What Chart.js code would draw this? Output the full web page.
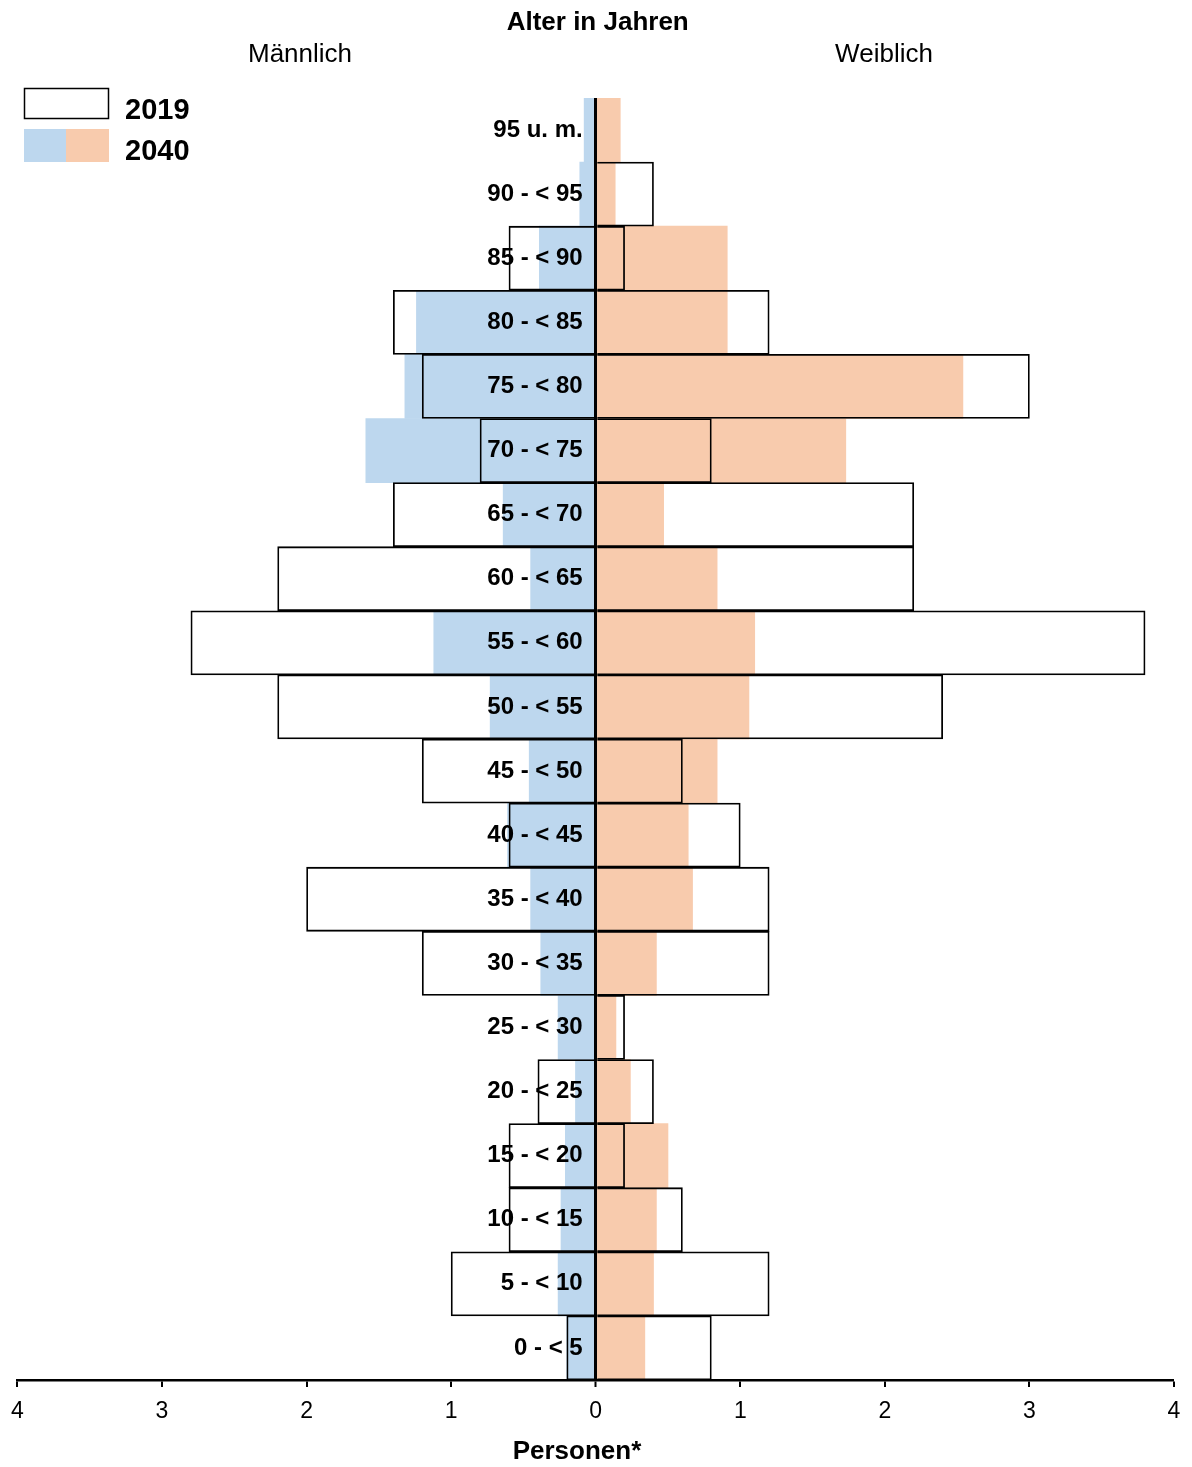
<!DOCTYPE html>
<html lang="de">

<head>
    <meta charset="UTF-8">
    <title>Alter in Jahren</title>
    <script src="https://cdn.jsdelivr.net/npm/chart.js"></script>
    <style>
        body { margin: 0; background: #fff; }
    </style>
</head>

<body>
    <canvas id="pyramid" width="1192" height="1467"></canvas>
    <script>
        const ageGroups = ['95 u. m.', '90 - < 95', '85 - < 90', '80 - < 85', '75 - < 80', '70 - < 75',
            '65 - < 70', '60 - < 65', '55 - < 60', '50 - < 55', '45 - < 50', '40 - < 45', '35 - < 40',
            '30 - < 35', '25 - < 30', '20 - < 25', '15 - < 20', '10 - < 15', '5 - < 10', '0 - < 5'];

        // 2019 (outline only)
        const male2019 = [null, null, 0.6, 1.4, 1.2, 0.8, 1.4, 2.2, 2.8, 2.2, 1.2, 0.6, 2.0, 1.2, null, 0.4, 0.6, 0.6, 1.0, 0.2];
        const female2019 = [null, 0.4, 0.2, 1.2, 3.0, 0.8, 2.2, 2.2, 3.8, 2.4, 0.6, 1.0, 1.2, 1.2, 0.2, 0.4, 0.2, 0.6, 1.2, 0.8];

        // 2040 (filled)
        const male2040 = [0.08, 0.11, 0.39, 1.24, 1.32, 1.59, 0.64, 0.45, 1.12, 0.73, 0.46, 0.61, 0.45, 0.38, 0.26, 0.14, 0.21, 0.24, 0.26, 0.2];
        const female2040 = [0.17, 0.135, 0.91, 0.91, 2.54, 1.73, 0.47, 0.84, 1.10, 1.06, 0.84, 0.64, 0.67, 0.42, 0.14, 0.24, 0.50, 0.42, 0.40, 0.34];

        const xTicks = [-4, -3, -2, -1, 0, 1, 2, 3, 4];

        const blue = '#BDD7EE';
        const orange = '#F8CBAD';
        const font = '"Liberation Sans", Arial, sans-serif';

        const neg = arr => arr.map(v => v === null ? null : -v);

        // labels in the middle, titles, legend
        const decorations = {
            id: 'decorations',
            afterDatasetsDraw(chart) {
                const ctx = chart.ctx;
                const x = chart.scales.x;
                const y = chart.scales.y;
                const x0 = x.getPixelForValue(0);

                ctx.save();
                ctx.fillStyle = '#000';
                ctx.textBaseline = 'middle';
                ctx.font = 'bold 24px ' + font;
                ctx.textAlign = 'right';
                ageGroups.forEach((g, i) => {
                    ctx.fillText(g, x0 - 13, y.getPixelForValue(i));
                });

                ctx.textAlign = 'center';
                ctx.font = 'bold 26px ' + font;
                ctx.fillText('Alter in Jahren', x0 + 2, 23);
                ctx.fillText('Personen*', 577, 1452);
                ctx.font = '26px ' + font;
                ctx.fillText('Männlich', 300, 55);
                ctx.fillText('Weiblich', 884, 55);

                // legend
                ctx.lineWidth = 1.5;
                ctx.strokeStyle = '#000';
                ctx.fillStyle = '#fff';
                ctx.fillRect(24, 88, 85, 31);
                ctx.strokeRect(24.5, 88.5, 84, 30);
                ctx.fillStyle = blue;
                ctx.fillRect(24, 129, 42, 33);
                ctx.fillStyle = orange;
                ctx.fillRect(66, 129, 43, 33);
                ctx.fillStyle = '#000';
                ctx.textAlign = 'left';
                ctx.font = 'bold 29px ' + font;
                ctx.fillText('2019', 125, 111);
                ctx.fillText('2040', 125, 152);
                ctx.restore();
            }
        };

        const ctx = document.getElementById('pyramid').getContext('2d');

        new Chart(ctx, {
            type: 'bar',
            data: {
                labels: ageGroups,
                datasets: [
                    {
                        label: '2019 männlich',
                        data: neg(male2019),
                        backgroundColor: 'rgba(0,0,0,0)',
                        borderColor: '#000',
                        borderWidth: 1.1,
                        borderSkipped: 'start',
                        order: 1
                    },
                    {
                        label: '2019 weiblich',
                        data: female2019,
                        backgroundColor: 'rgba(0,0,0,0)',
                        borderColor: '#000',
                        borderWidth: 1.1,
                        borderSkipped: 'start',
                        order: 1
                    },
                    {
                        label: '2040 männlich',
                        data: neg(male2040),
                        backgroundColor: blue,
                        borderWidth: 0,
                        order: 2
                    },
                    {
                        label: '2040 weiblich',
                        data: female2040,
                        backgroundColor: orange,
                        borderWidth: 0,
                        order: 2
                    }
                ]
            },
            options: {
                indexAxis: 'y',
                responsive: false,
                animation: false,
                devicePixelRatio: 1,
                grouped: false,
                barPercentage: 1,
                categoryPercentage: 1,
                layout: {
                    padding: { top: 98, left: 17, right: 18, bottom: 0 }
                },
                plugins: {
                    legend: { display: false },
                    tooltip: { enabled: false }
                },
                scales: {
                    x: {
                        min: xTicks[0],
                        max: xTicks[xTicks.length - 1],
                        afterBuildTicks: scale => {
                            scale.ticks = xTicks.map(v => ({ value: v }));
                        },
                        afterFit: scale => {
                            scale.height = 87;
                        },
                        border: { display: true, color: '#000', width: 2.5, z: 1 },
                        grid: {
                            z: 1,
                            color: c => c.tick && c.tick.value === 0 ? '#000' : 'rgba(0,0,0,0)',
                            lineWidth: c => c.tick && c.tick.value === 0 ? 3 : 0,
                            drawTicks: true,
                            tickLength: 7,
                            tickColor: '#000',
                            tickWidth: 2
                        },
                        ticks: {
                            color: '#000',
                            padding: 11,
                            maxRotation: 0,
                            font: { family: font, size: 23 },
                            callback: v => Math.abs(v)
                        },
                        title: { display: false }
                    },
                    y: {
                        display: false,
                        offset: true
                    }
                }
            },
            plugins: [decorations]
        });
    </script>
</body>

</html>
